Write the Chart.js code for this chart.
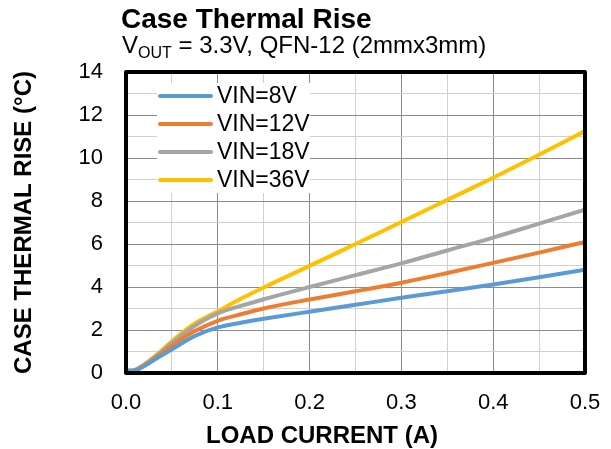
<!DOCTYPE html>
<html>
<head>
<meta charset="utf-8">
<script src="https://cdn.jsdelivr.net/npm/chart.js@4/dist/chart.umd.min.js"></script>
<style>
  html, body { margin: 0; padding: 0; background: #fff; }
  #wrap { position: relative; width: 611px; height: 449px; font-family: 'Liberation Sans', Arial, sans-serif; color: #000; }
  #chart { position: absolute; left: 0; top: 0; }
  .title { position: absolute; left: 121px; top: 5px; font-size: 28px; font-weight: bold; line-height: 28px; white-space: nowrap; }
  .subtitle { position: absolute; left: 122px; top: 33px; font-size: 24px; line-height: 24px; white-space: nowrap; }
  .subtitle sub { font-size: 16px; vertical-align: -5px; line-height: 0; }
  .xtitle { position: absolute; left: 0; width: 644px; top: 423px; text-align: center; font-size: 24px; font-weight: bold; line-height: 24px; white-space: nowrap; }
</style>
</head>
<body>
<div id="wrap">
  <canvas id="chart" width="611" height="449"></canvas>
  <div class="title">Case Thermal Rise</div>
  <div class="subtitle">V<sub>OUT</sub> = 3.3V, QFN-12 (2mmx3mm)</div>
  <div class="xtitle">LOAD CURRENT (A)</div>
</div>
<script>
// load current (A)
const loadCurrent = [0, 0.008, 0.02, 0.035, 0.05, 0.075, 0.1, 0.125, 0.15, 0.2, 0.25, 0.3, 0.35, 0.4, 0.45, 0.5];

// case temperature rise (°C) per input voltage
const vin8  = [0.1, 0.1, 0.33, 0.72, 1.1, 1.72, 2.12, 2.34, 2.52, 2.85, 3.17, 3.5, 3.8, 4.12, 4.45, 4.8];
const vin12 = [0.1, 0.11, 0.36, 0.8, 1.27, 1.95, 2.43, 2.73, 3.0, 3.42, 3.8, 4.2, 4.65, 5.12, 5.6, 6.1];
const vin18 = [0.1, 0.12, 0.38, 0.86, 1.4, 2.2, 2.77, 3.12, 3.43, 4.0, 4.55, 5.1, 5.7, 6.3, 6.95, 7.6];
const vin36 = [0.1, 0.12, 0.4, 0.9, 1.48, 2.3, 2.87, 3.45, 3.98, 4.98, 6.0, 7.02, 8.05, 9.08, 10.15, 11.25];

const seriesLabels = ['VIN=8V', 'VIN=12V', 'VIN=18V', 'VIN=36V'];
const seriesColors = ['#5B9BD5', '#ED7D31', '#A5A5A5', '#FFC000'];

const FONT = "'Liberation Sans', Arial, sans-serif";

function toPoints(ys) {
  return loadCurrent.map((x, i) => ({ x: x, y: ys[i] }));
}

// legend box drawn inside the plot, white background over the grid
const insideLegend = {
  id: 'insideLegend',
  afterDatasetsDraw(chart) {
    const ctx = chart.ctx;
    ctx.save();
    ctx.fillStyle = '#fff';
    ctx.fillRect(157, 83, 153, 110);
    ctx.font = '23px ' + FONT;
    ctx.textBaseline = 'middle';
    ctx.lineCap = 'round';
    chart.data.datasets.forEach((ds, i) => {
      const y = 96 + i * 28;
      ctx.strokeStyle = ds.borderColor;
      ctx.lineWidth = 4;
      ctx.beginPath();
      ctx.moveTo(160, y);
      ctx.lineTo(211, y);
      ctx.stroke();
      ctx.fillStyle = '#000';
      ctx.fillText(ds.label, 217, y + 1);
    });
    ctx.restore();
  }
};

// thick black frame round the plot area
const plotFrame = {
  id: 'plotFrame',
  afterDraw(chart) {
    const a = chart.chartArea;
    const ctx = chart.ctx;
    ctx.save();
    ctx.strokeStyle = '#000';
    ctx.lineWidth = 4;
    ctx.lineJoin = 'round';
    ctx.strokeRect(a.left, a.top, a.right - a.left, a.bottom - a.top);
    ctx.restore();
  }
};

new Chart(document.getElementById('chart'), {
  type: 'line',
  data: {
    datasets: [vin8, vin12, vin18, vin36].map((ys, i) => ({
      label: seriesLabels[i],
      data: toPoints(ys),
      borderColor: seriesColors[i],
      backgroundColor: seriesColors[i],
      borderWidth: 4,
      pointRadius: 0,
      cubicInterpolationMode: 'monotone',
      fill: false,
    })),
  },
  options: {
    responsive: false,
    animation: false,
    events: [],
    layout: { padding: { top: 72, right: 26, left: 0, bottom: 0 } },
    plugins: {
      legend: { display: false },
      title: { display: false },
      tooltip: { enabled: false },
    },
    scales: {
      x: {
        type: 'linear',
        min: 0,
        max: 0.5,
        afterFit: s => { s.height = 76; s.paddingLeft = 0; s.paddingRight = 0; },
        afterBuildTicks: s => {
          s.ticks = [];
          for (let i = 0; i <= 10; i++) s.ticks.push({ value: i * 0.05 });
        },
        border: { display: false },
        grid: {
          drawTicks: false,
          lineWidth: 1,
          color: c => (Math.round(c.tick.value * 100) % 10 === 0 ? '#8c8c8c' : '#d0d0d0'),
        },
        ticks: {
          padding: 17,
          color: '#000',
          font: { family: FONT, size: 22 },
          maxRotation: 0,
          autoSkip: false,
          callback: v => (Math.round(v * 100) % 10 === 0 ? v.toFixed(1) : ''),
        },
      },
      y: {
        min: 0,
        max: 14,
        afterFit: s => { s.width = 126; s.paddingTop = 0; s.paddingBottom = 0; },
        afterBuildTicks: s => {
          s.ticks = [];
          for (let i = 0; i <= 14; i++) s.ticks.push({ value: i });
        },
        border: { display: false },
        grid: {
          drawTicks: false,
          lineWidth: 1,
          color: c => (c.tick.value % 2 === 0 ? '#8c8c8c' : '#d0d0d0'),
        },
        ticks: {
          padding: 23,
          color: '#000',
          font: { family: FONT, size: 22 },
          autoSkip: false,
          callback: v => (v % 2 === 0 ? String(v) : ''),
        },
        title: {
          display: true,
          text: 'CASE THERMAL RISE (°C)',
          color: '#000',
          font: { family: FONT, size: 24, weight: 'bold' },
          padding: { top: 10, bottom: 0 },
        },
      },
    },
  },
  plugins: [insideLegend, plotFrame],
});
</script>
</body>
</html>
